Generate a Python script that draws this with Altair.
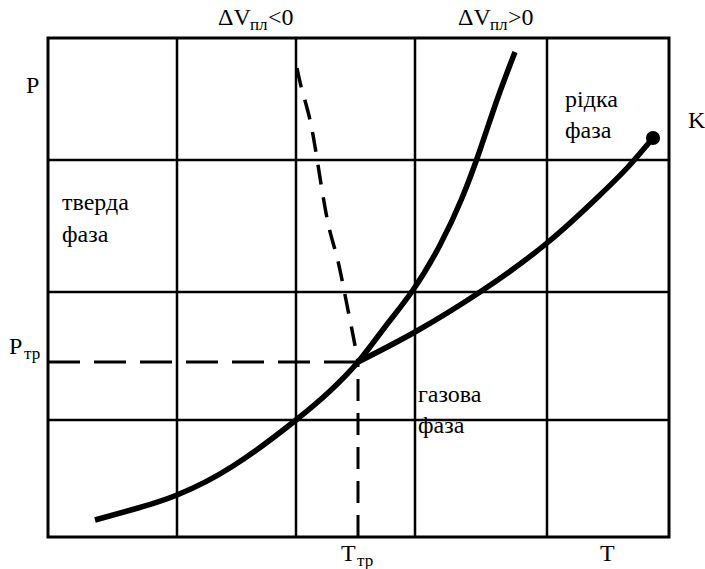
import altair as alt
import pandas as pd

# Plot-area extent in diagram units (T to the right, P upward)
T_MAX = 621
P_MAX = 499

# Grid positions
grid_T = [129, 248, 367, 499]
grid_P = [117, 245, 377]

# Triple point and critical point
triple_T, triple_P = 310, 175
crit_T, crit_P = 605, 399

# Sublimation curve continued by the melting curve with dV > 0
solid_T = [47, 90, 129, 185, 248, 282, 310, 337, 365, 392, 414, 432, 449, 467]
solid_P = [17, 29, 42, 71, 117, 146, 175, 210, 247, 292, 339, 387, 437, 485]

# Vaporization curve from the triple point to K
vap_T = [310, 367, 432, 499, 552, 580, 605]
vap_P = [175, 205, 245, 294, 342, 370, 399]

# Melting curve with dV < 0 (dashed)
melt_T = [249, 254, 262, 270, 280, 289, 298, 305, 310]
melt_P = [469, 447, 417, 372, 314, 280, 237, 202, 175]

# Text labels: text, left x (T), baseline (P), font size
lab_text = ["P", "P", "тр", "T", "тр", "T", "K",
            "ΔV", "пл", "<0", "ΔV", "пл", ">0",
            "тверда", "фаза", "газова", "фаза", "рідка", "фаза"]
lab_T = [-22, -39, -24, 293, 309, 552, 640,
         170, 202, 220, 410, 442, 460,
         14, 14, 370, 370, 517, 517]
lab_P = [444, 183, 178, -24, -29, -24, 409,
         512, 507, 512, 512, 507, 512,
         327, 295, 135, 104, 430, 399]
lab_size = [24, 24, 17, 24, 17, 24, 24,
            24, 17, 24, 24, 17, 24,
            24, 24, 24, 24, 24, 24]

xs = alt.Scale(domain=[0, T_MAX], nice=False, zero=False)
ys = alt.Scale(domain=[0, P_MAX], nice=False, zero=False)

def X(field="T"):
    return alt.X(f"{field}:Q", scale=xs, axis=None)

def Y(field="P"):
    return alt.Y(f"{field}:Q", scale=ys, axis=None)

vgrid = alt.Chart(pd.DataFrame({"T": grid_T})).mark_rule(
    color="black", strokeWidth=2.5
).encode(x=X())

hgrid = alt.Chart(pd.DataFrame({"P": grid_P})).mark_rule(
    color="black", strokeWidth=2.5
).encode(y=Y())

solid = alt.Chart(pd.DataFrame({"T": solid_T, "P": solid_P, "i": range(len(solid_T))})).mark_line(
    color="black", strokeWidth=5.5, interpolate="natural", strokeCap="butt"
).encode(x=X(), y=Y(), order="i:Q")

vap = alt.Chart(pd.DataFrame({"T": vap_T, "P": vap_P, "i": range(len(vap_T))})).mark_line(
    color="black", strokeWidth=5.5, interpolate="natural", strokeCap="butt"
).encode(x=X(), y=Y(), order="i:Q")

melt = alt.Chart(pd.DataFrame({"T": melt_T, "P": melt_P, "i": range(len(melt_T))})).mark_line(
    color="black", strokeWidth=3.5, interpolate="natural", strokeDash=[20, 13]
).encode(x=X(), y=Y(), order="i:Q")

# Dashed guides from the triple point to the axes
guide_h = alt.Chart(pd.DataFrame({"T": [0], "T2": [triple_T], "P": [triple_P]})).mark_rule(
    color="black", strokeWidth=3, strokeDash=[32, 14]
).encode(x=X(), x2="T2:Q", y=Y())

guide_v = alt.Chart(pd.DataFrame({"T": [triple_T], "P": [0], "P2": [triple_P]})).mark_rule(
    color="black", strokeWidth=3, strokeDash=[22, 12]
).encode(x=X(), y=Y(), y2="P2:Q")

crit = alt.Chart(pd.DataFrame({"T": [crit_T], "P": [crit_P]})).mark_circle(
    color="black", opacity=1, size=200
).encode(x=X(), y=Y())

labels = alt.Chart(pd.DataFrame({
    "text": lab_text, "T": lab_T, "P": lab_P, "fs": lab_size
})).mark_text(
    align="left", baseline="alphabetic", font="serif", color="black"
).encode(
    x=X(), y=Y(), text="text:N", size=alt.Size("fs:Q", scale=None, legend=None)
)

chart = alt.layer(
    vgrid, hgrid, guide_h, guide_v, melt, solid, vap, crit, labels
).properties(
    width=T_MAX, height=P_MAX,
    autosize=alt.AutoSizeParams(type="none"),
    padding={"left": 48, "top": 38, "right": 36, "bottom": 32},
    background="white",
).configure_view(stroke="black", strokeWidth=3)

chart.save("out.html", embed_options={"renderer": "svg", "actions": False})
